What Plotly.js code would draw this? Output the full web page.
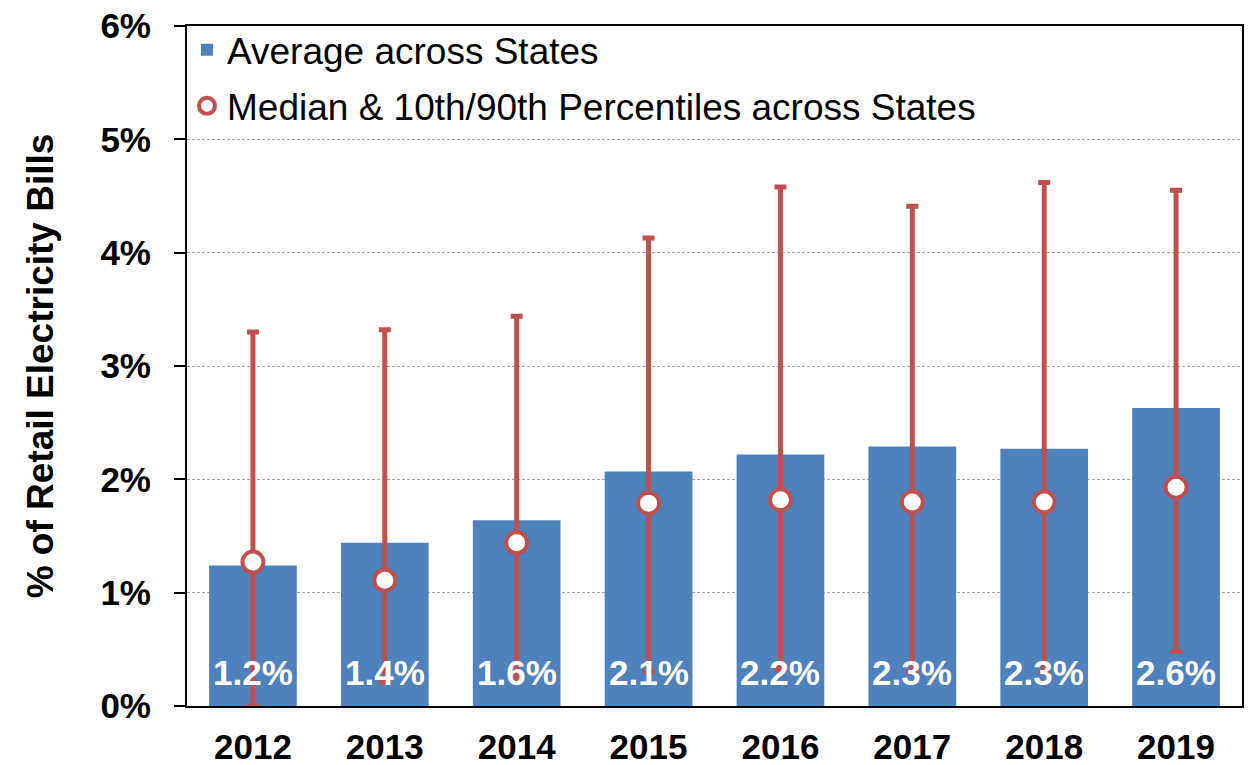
<!DOCTYPE html>
<html>
<head>
<meta charset="utf-8">
<script src="https://cdn.plot.ly/plotly-3.0.1.min.js"></script>
<style>
  body { margin: 0; background: #fff; }
  #chart { width: 1252px; height: 765px; }
</style>
</head>
<body>
<div id="chart"></div>
<script>
// Share of retail electricity bills, by year
const years = ['2012', '2013', '2014', '2015', '2016', '2017', '2018', '2019'];
const avgShare = [1.24, 1.44, 1.64, 2.07, 2.22, 2.29, 2.27, 2.63];
const avgLabels = ['1.2%', '1.4%', '1.6%', '2.1%', '2.2%', '2.3%', '2.3%', '2.6%'];
const medianShare = [1.27, 1.11, 1.44, 1.79, 1.82, 1.80, 1.80, 1.93];
const p10Share = [0.0, 0.21, 0.23, 0.30, 0.32, 0.30, 0.30, 0.48];
const p90Share = [3.30, 3.32, 3.44, 4.13, 4.58, 4.41, 4.62, 4.55];

const blue = '#4F81BD';
const red = '#C0504D';
const font = 'Liberation Sans, Arial, sans-serif';

const avgTrace = {
    x: years,
    y: avgShare,
    type: 'bar',
    name: 'Average across States',
    legendgroup: 'avg',
    marker: { color: blue },
    hoverinfo: 'skip'
};

const medianTrace = {
    x: years,
    y: medianShare,
    type: 'scatter',
    mode: 'markers',
    name: 'Median & 10th/90th Percentiles across States',
    legendgroup: 'med',
    marker: { symbol: 'circle', size: 21, color: '#ffffff', line: { color: red, width: 4 } },
    error_y: {
        type: 'data',
        symmetric: false,
        array: p90Share.map((v, i) => v - medianShare[i]),
        arrayminus: p10Share.map((v, i) => medianShare[i] - v),
        color: red,
        thickness: 5,
        width: 6
    },
    cliponaxis: false,
    hoverinfo: 'skip'
};

// white value labels sitting at the bottom of each bar (x = category index)
const labels = years.map((yr, i) => ({
    x: i,
    y: 0,
    xref: 'x',
    yref: 'y',
    text: avgLabels[i],
    showarrow: false,
    yanchor: 'bottom',
    yshift: 12,
    font: { family: font, size: 35, color: '#ffffff', weight: 'bold' }
}));

const layout = {
    width: 1252,
    height: 765,
    margin: { l: 187, r: 10, t: 26, b: 59 },
    paper_bgcolor: '#ffffff',
    plot_bgcolor: '#ffffff',
    font: { family: font, color: '#000000' },
    bargap: 0.335,
    showlegend: true,
    legend: {
        x: 0, y: 1.01, xanchor: 'left', yanchor: 'top',
        bgcolor: 'rgba(0,0,0,0)',
        font: { family: font, size: 37, color: '#000000' },
        traceorder: 'grouped',
        tracegroupgap: 5
    },
    xaxis: {
        type: 'category',
        range: [-0.5, years.length - 0.5],
        showline: true,
        linecolor: '#000000',
        linewidth: 2,
        mirror: true,
        ticks: '',
        tickfont: { family: font, size: 35, color: '#000000', weight: 'bold' },
        ticklabelstandoff: 9
    },
    yaxis: {
        range: [0, 6],
        dtick: 1,
        ticksuffix: '%',
        showline: true,
        linecolor: '#000000',
        linewidth: 2,
        mirror: true,
        ticks: 'outside',
        ticklen: 11,
        tickwidth: 2,
        tickcolor: '#000000',
        showgrid: true,
        gridcolor: '#a6a6a6',
        griddash: '3px,2px',
        gridwidth: 1,
        zeroline: false,
        tickfont: { family: font, size: 35, color: '#000000', weight: 'bold' },
        ticklabelstandoff: 16,
        title: {
            text: '% of Retail Electricity Bills',
            font: { family: font, size: 37, color: '#000000', weight: 'bold' },
            standoff: 35
        }
    },
    annotations: labels
};

Plotly.newPlot('chart', [avgTrace, medianTrace], layout, { displayModeBar: false, staticPlot: true });
</script>
</body>
</html>
